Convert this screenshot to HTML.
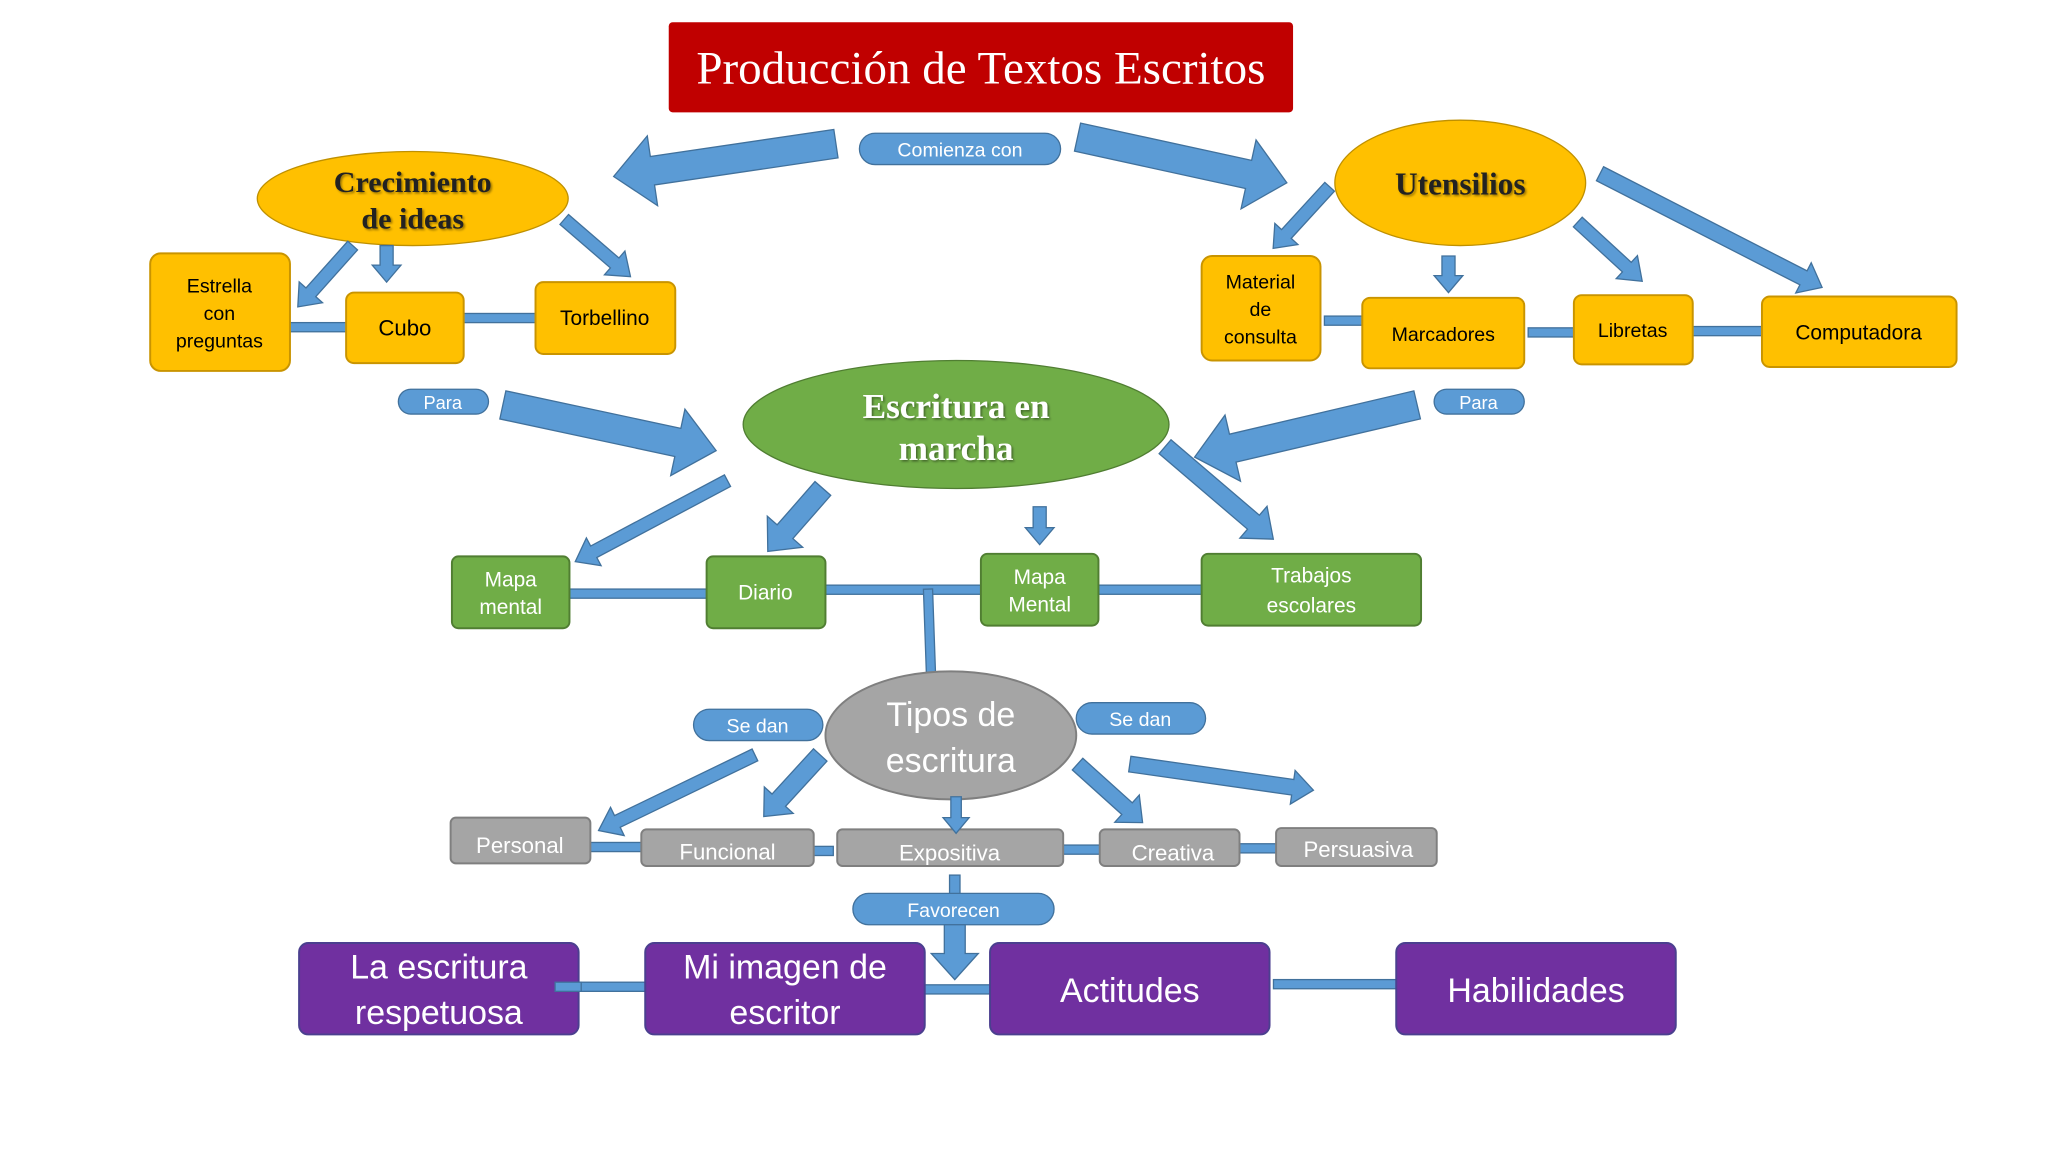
<!DOCTYPE html>
<html><head><meta charset="utf-8"><style>
html,body{margin:0;padding:0;background:#fff;}
svg{display:block;}
.ar{fill:#5b9bd5;stroke:#41719c;stroke-width:1;}
.cn{fill:#5b9bd5;stroke:#41719c;stroke-width:1;}
.sans{font-family:"Liberation Sans",sans-serif;}
.serif{font-family:"Liberation Serif",serif;}
</style></head><body>
<svg width="2048" height="1152" viewBox="0 0 1568 882" xmlns="http://www.w3.org/2000/svg">
<defs>
<filter id="sh" x="-10%" y="-10%" width="130%" height="130%"><feDropShadow dx="1.2" dy="1.2" stdDeviation="0.8" flood-color="#000" flood-opacity="0.4"/></filter>
</defs>
<rect width="1568" height="882" fill="#fff"/>

<!-- Title -->
<rect x="512" y="17" width="478" height="69" rx="3" fill="#c00000"/>
<text x="751" y="64" text-anchor="middle" class="serif" font-size="36" fill="#fff">Producción de Textos Escritos</text>

<!-- connectors -->
<rect class="cn" x="220" y="247" width="48" height="7"/>
<rect class="cn" x="348" y="240" width="69" height="7"/>
<rect class="cn" x="1014" y="242" width="38" height="7"/>
<rect class="cn" x="1170" y="251" width="44" height="7"/>
<rect class="cn" x="1294" y="250" width="66" height="7"/>
<rect class="cn" x="436" y="451" width="107" height="7"/>
<rect class="cn" x="632" y="448" width="120" height="7"/>
<rect class="cn" x="841" y="448" width="81" height="7"/>
<rect class="cn" x="707" y="451" width="7" height="64" transform="rotate(-2 711 451)"/>
<rect class="cn" x="450" y="645" width="45" height="7"/>
<rect class="cn" x="610" y="648" width="28" height="7"/>
<rect class="cn" x="800" y="647" width="46" height="7"/>
<rect class="cn" x="945" y="646" width="45" height="7"/>
<rect class="cn" x="425" y="752" width="78" height="7"/>
<rect class="cn" x="697" y="754" width="78" height="7"/>
<rect class="cn" x="975" y="750" width="95" height="7"/>
<rect class="cn" x="727" y="670" width="8" height="18"/>

<!-- pills -->
<rect class="cn" x="658" y="102" width="154" height="24" rx="12"/>
<text x="735" y="120" text-anchor="middle" class="sans" font-size="15" fill="#fff">Comienza con</text>
<rect class="cn" x="305" y="298" width="69" height="19" rx="9.5"/>
<text x="339" y="313" text-anchor="middle" class="sans" font-size="14" fill="#fff">Para</text>
<rect class="cn" x="1098" y="298" width="69" height="19" rx="9.5"/>
<text x="1132" y="313" text-anchor="middle" class="sans" font-size="14" fill="#fff">Para</text>
<rect class="cn" x="531" y="543" width="99" height="24" rx="12"/>
<text x="580" y="561" text-anchor="middle" class="sans" font-size="15" fill="#fff">Se dan</text>
<rect class="cn" x="824" y="538" width="99" height="24" rx="12"/>
<text x="873" y="556" text-anchor="middle" class="sans" font-size="15" fill="#fff">Se dan</text>
<rect class="cn" x="653" y="684" width="154" height="24" rx="12"/>
<text x="730" y="702" text-anchor="middle" class="sans" font-size="15" fill="#fff">Favorecen</text>

<!-- yellow -->
<ellipse cx="316" cy="152" rx="119" ry="36" fill="#ffc000" stroke="#bf9000" stroke-width="1"/>
<text x="316" y="147" text-anchor="middle" class="serif" font-weight="bold" font-size="23" fill="#222" filter="url(#sh)">Crecimiento</text>
<text x="316" y="175" text-anchor="middle" class="serif" font-weight="bold" font-size="23" fill="#222" filter="url(#sh)">de ideas</text>
<ellipse cx="1118" cy="140" rx="96" ry="48" fill="#ffc000" stroke="#bf9000" stroke-width="1"/>
<text x="1118" y="149" text-anchor="middle" class="serif" font-weight="bold" font-size="24" fill="#222" filter="url(#sh)">Utensilios</text>

<g fill="#ffc000" stroke="#c99400" stroke-width="1.5">
<rect x="115" y="194" width="107" height="90" rx="8"/>
<rect x="265" y="224" width="90" height="54" rx="6"/>
<rect x="410" y="216" width="107" height="55" rx="6"/>
<rect x="920" y="196" width="91" height="80" rx="8"/>
<rect x="1043" y="228" width="124" height="54" rx="6"/>
<rect x="1205" y="226" width="91" height="53" rx="6"/>
<rect x="1349" y="227" width="149" height="54" rx="6"/>
</g>
<g class="sans" fill="#000" text-anchor="middle" font-size="15">
<text x="168" y="224">Estrella</text><text x="168" y="245">con</text><text x="168" y="266">preguntas</text>
<text x="310" y="257" font-size="17">Cubo</text>
<text x="463" y="249" font-size="16">Torbellino</text>
<text x="965" y="221">Material</text><text x="965" y="242">de</text><text x="965" y="263">consulta</text>
<text x="1105" y="261">Marcadores</text>
<text x="1250" y="258">Libretas</text>
<text x="1423" y="260" font-size="16">Computadora</text>
</g>

<!-- green -->
<ellipse cx="732" cy="325" rx="163" ry="49" fill="#70ad47" stroke="#507e32" stroke-width="1"/>
<text x="732" y="320" text-anchor="middle" class="serif" font-weight="bold" font-size="27" fill="#fff" filter="url(#sh)">Escritura en</text>
<text x="732" y="352" text-anchor="middle" class="serif" font-weight="bold" font-size="27" fill="#fff" filter="url(#sh)">marcha</text>
<g fill="#70ad47" stroke="#507e32" stroke-width="1.5">
<rect x="346" y="426" width="90" height="55" rx="5"/>
<rect x="541" y="426" width="91" height="55" rx="5"/>
<rect x="751" y="424" width="90" height="55" rx="5"/>
<rect x="920" y="424" width="168" height="55" rx="5"/>
</g>
<g class="sans" fill="#fff" text-anchor="middle" font-size="16">
<text x="391" y="449">Mapa</text><text x="391" y="470">mental</text>
<text x="586" y="459">Diario</text>
<text x="796" y="447">Mapa</text><text x="796" y="468">Mental</text>
<text x="1004" y="446">Trabajos</text><text x="1004" y="469">escolares</text>
</g>

<!-- gray -->
<ellipse cx="728" cy="563" rx="96" ry="49" fill="#a5a5a5" stroke="#7f7f7f" stroke-width="1.5"/>
<text x="728" y="556" text-anchor="middle" class="sans" font-size="26" fill="#fff">Tipos de</text>
<text x="728" y="591" text-anchor="middle" class="sans" font-size="26" fill="#fff">escritura</text>
<g fill="#a5a5a5" stroke="#7f7f7f" stroke-width="1.5">
<rect x="345" y="626" width="107" height="35" rx="4"/>
<rect x="491" y="635" width="132" height="28" rx="4"/>
<rect x="641" y="635" width="173" height="28" rx="4"/>
<rect x="842" y="635" width="107" height="28" rx="4"/>
<rect x="977" y="634" width="123" height="29" rx="4"/>
</g>
<g class="sans" fill="#fff" text-anchor="middle" font-size="17">
<text x="398" y="653">Personal</text>
<text x="557" y="658">Funcional</text>
<text x="727" y="659">Expositiva</text>
<text x="898" y="659">Creativa</text>
<text x="1040" y="656">Persuasiva</text>
</g>

<!-- purple -->
<g fill="#7030a0" stroke="#4b3f8f" stroke-width="1.5">
<rect x="229" y="722" width="214" height="70" rx="7"/>
<rect x="494" y="722" width="214" height="70" rx="7"/>
<rect x="758" y="722" width="214" height="70" rx="7"/>
<rect x="1069" y="722" width="214" height="70" rx="7"/>
</g>
<rect class="cn" x="425" y="752" width="20" height="7" stroke="none"/>
<g class="sans" fill="#fff" text-anchor="middle" font-size="26">
<text x="336" y="749">La escritura</text><text x="336" y="784">respetuosa</text>
<text x="601" y="749">Mi imagen de</text><text x="601" y="784">escritor</text>
<text x="865" y="767">Actitudes</text>
<text x="1176" y="767">Habilidades</text>
</g>

<!-- arrows -->
<g class="ar">
<polygon transform="translate(640,110) rotate(171.6)" points="0,-11 142,-11 142,-27 172,0 142,27 142,11 0,11"/>
<polygon transform="translate(825,105) rotate(12.3)" points="0,-11 134,-11 134,-27 164,0 134,27 134,11 0,11"/>
<polygon transform="translate(270,188) rotate(131.8)" points="0,-5 48,-5 48,-12 63,0 48,12 48,5 0,5"/>
<polygon transform="translate(296,188) rotate(90)" points="0,-5 15,-5 15,-11 28,0 15,11 15,5 0,5"/>
<polygon transform="translate(432,168) rotate(40.8)" points="0,-5 51,-5 51,-12 67,0 51,12 51,5 0,5"/>
<polygon transform="translate(1018,143) rotate(132.5)" points="0,-5 49,-5 49,-12 64,0 49,12 49,5 0,5"/>
<polygon transform="translate(1109,196) rotate(90)" points="0,-5 15,-5 15,-11 28,0 15,11 15,5 0,5"/>
<polygon transform="translate(1208,170) rotate(42.6)" points="0,-5 51,-5 51,-12 67,0 51,12 51,5 0,5"/>
<polygon transform="translate(1225,133) rotate(27.1)" points="0,-6 175,-6 175,-13 191,0 175,13 175,6 0,6"/>
<polygon transform="translate(385,310) rotate(12.1)" points="0,-11 137,-11 137,-26 167,0 137,26 137,11 0,11"/>
<polygon transform="translate(1085,310) rotate(166.8)" points="0,-11 145,-11 145,-26 175,0 145,26 145,11 0,11"/>
<polygon transform="translate(557,368) rotate(152)" points="0,-5 116,-5 116,-12 132,0 116,12 116,5 0,5"/>
<polygon transform="translate(630,374) rotate(131.2)" points="0,-8 44,-8 44,-18 64,0 44,18 44,8 0,8"/>
<polygon transform="translate(796,388) rotate(90)" points="0,-5 16,-5 16,-11 29,0 16,11 16,5 0,5"/>
<polygon transform="translate(892,342) rotate(40.5)" points="0,-7 89,-7 89,-16 109,0 89,16 89,7 0,7"/>
<polygon transform="translate(578,578) rotate(154.2)" points="0,-5 117,-5 117,-12 133,0 117,12 117,5 0,5"/>
<polygon transform="translate(628,578) rotate(132.5)" points="0,-7 47,-7 47,-15 64,0 47,15 47,7 0,7"/>
<polygon transform="translate(732,610) rotate(90)" points="0,-4 16,-4 16,-10 28,0 16,10 16,4 0,4"/>
<polygon transform="translate(825,585) rotate(42)" points="0,-6 51,-6 51,-14 67,0 51,14 51,6 0,6"/>
<polygon transform="translate(865,585) rotate(8.1)" points="0,-6 126,-6 126,-13 142,0 126,13 126,6 0,6"/>
<polygon transform="translate(731,708) rotate(90)" points="0,-8 22,-8 22,-18 42,0 22,18 22,8 0,8"/>
</g>
</svg>
</body></html>
